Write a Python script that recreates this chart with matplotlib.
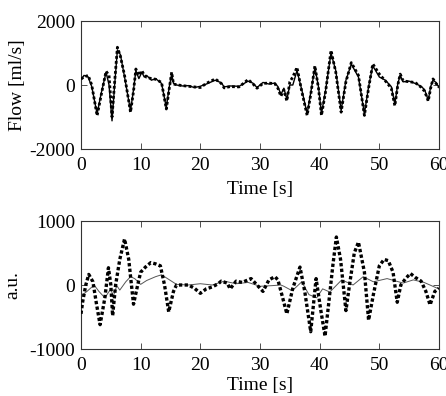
import matplotlib
matplotlib.use("Agg")
import matplotlib.pyplot as plt

plt.rcParams['font.family'] = ['Liberation Serif', 'DejaVu Serif']
plt.rcParams['axes.unicode_minus'] = False

# ---- top panel: flow ----
t_top = [0, 0.5, 1.2, 1.8, 2.7, 3.4, 4.2, 4.7, 5.2, 5.6, 6.1, 6.6, 7.3, 8.3, 8.8, 9.2, 9.7, 10.2,
         10.6, 11, 11.8, 12.5, 13.5, 14.3, 14.8, 15.2, 15.5, 16, 17, 18, 19, 20, 21, 22.5, 23.5,
         24, 25, 26.5, 28, 28.8, 29.5, 30.5, 31.5, 32.5, 33, 33.5, 34, 34.5, 35, 35.5, 36.2, 37,
         37.9, 38.5, 39.2, 39.8, 40.3, 41, 41.9, 42.7, 43.6, 44.4, 45.3, 46.5, 47.5, 48.2, 48.9,
         50, 51, 52, 52.6, 53.1, 53.5, 54, 55, 56, 57, 57.6, 58.2, 58.6, 59, 59.5, 60]
flow_ref = [190, 250, 300, 0, -960, -300, 430, 300, -1000, 0, 1180, 900, 300, -850, -200, 500, 300, 450,
            300, 240, 200, 180, 80, -750, -100, 400, 30, 10, -20, -40, -60, -80, 50, 190, 50,
            -90, -50, -60, 170, 40, -100, 50, 60, 40, -100, -350, -150, -500, 100, 250, 550, -200,
            -950, -300, 600, -100, -950, -200, 1080, 400, -850, 100, 700, 300, -950, -100, 660,
            340, 130, -100, -650, 0, 340, 130, 100, 80, -70, -200, -500, -100, 190, 50, -70]
flow_est = [150, 300, 250, -50, -900, -250, 400, 0, -1120, -100, 1100, 950, 250, -800, -150, 450, 200, 400,
            250, 300, 150, 200, 50, -700, -50, 350, 50, 0, -30, -20, -80, -40, 30, 150, 70,
            -60, -30, -40, 120, 60, -80, 80, 30, 60, -50, -300, -100, -450, 0, 0, 450, -150,
            -900, -250, 550, -50, -900, -150, 1000, 450, -800, 150, 650, 250, -900, -50, 600,
            250, 150, -50, -600, 50, 300, 100, 120, 50, -40, -150, -480, -50, 150, 80, -80]

# ---- bottom panel: a.u. ----
t_bot = [0, 0.3, 0.8, 1.3, 2, 2.6, 3.2, 4, 4.6, 5, 5.3, 5.8, 6.5, 7.3, 8, 8.8, 9.5, 10, 10.8, 11.7,
         12.5, 13.3, 14, 14.7, 15.5, 16, 17, 18, 19, 20, 21, 22, 23, 23.5, 24.5, 25, 26, 27, 28.5,
         29.5, 30.5, 31.5, 32.5, 33, 33.8, 34.5, 35.5, 36.7, 37.5, 38.5, 39.4, 40.2, 40.9, 41.5,
         42.2, 42.8, 43.5, 44.4, 45, 45.8, 46.5, 47.5, 48.2, 49, 50, 50.8, 51.5, 52.3, 53, 53.6,
         54.4, 55.2, 56, 57, 57.8, 58.5, 59.3, 60]
au_dotted = [-450, -250, 0, 165, 50, -300, -620, -200, 270, 0, -480, 0, 400, 720, 400, -300, 0, 200, 280, 350,
             330, 300, 0, -420, -100, 0, 0, 0, -50, -130, -60, -30, 20, 60, 30, -60, 60, 40, 100,
             0, -100, 80, 130, 80, -200, -450, -50, 280, -100, -730, 100, -400, -800, -300,
             300, 750, 400, -400, 0, 500, 670, 200, -550, -150, 300, 400, 380, 200, -270, 0,
             100, 180, 120, 60, -100, -310, -100, -50]

t_bot2 = [0, 1, 2.2, 3, 4, 5, 5.4, 6, 6.5, 7.5, 8.3, 9, 10, 11, 12.5, 13.5, 14.5, 16, 18, 20, 22,
          24, 26, 28, 30, 32, 33.5, 34, 35.4, 37, 38.2, 39.5, 40.5, 41.7, 43.7, 45.6, 47.3, 49,
          51.3, 54, 55.7, 57.5, 59.7, 60]
au_solid = [-170, -100, 0, -100, -200, -60, -180, -10, -80, 50, 130, 100, 10, 70, 130, 160, 100, 10, 0, 20, 0,
            60, 20, 40, -20, -10, 0, -20, -90, 50, -150, -200, -60, -110, 80, 0, 130, 50,
            100, 30, 80, 40, -50, -60]

fig = plt.figure(figsize=(4.46, 3.96), dpi=100)
ax1 = fig.add_axes([81/446, 1 - 149/396, 358/446, 128/396])
ax2 = fig.add_axes([81/446, 1 - 349/396, 358/446, 128/396])

ax1.plot(t_top, flow_est, color='black', lw=1.0, zorder=2)
ax1.plot(t_top, flow_ref, color='black', lw=2.0, linestyle=(0, (1, 0.8)), zorder=3)
ax1.set_ylim(-2000, 2000)
ax1.set_yticks([-2000, 0, 2000])
ax1.set_ylabel('Flow [ml/s]', labelpad=3)

ax2.plot(t_bot2, au_solid, color='#555555', lw=0.7, zorder=2)
ax2.plot(t_bot, au_dotted, color='black', lw=2.4, linestyle=(0, (1, 0.7)), zorder=3)
ax2.set_ylim(-1000, 1000)
ax2.set_yticks([-1000, 0, 1000])
ax2.set_ylabel('a.u.', labelpad=6)

for ax, lp in ((ax1, 5), (ax2, 2)):
    ax.set_xlim(0, 60)
    ax.set_xticks([0, 10, 20, 30, 40, 50, 60])
    ax.set_xlabel('Time [s]', fontsize=14, labelpad=lp)
    ax.tick_params(direction='in', top=True, right=True, length=4, width=0.6,
                   labelsize=14, pad=6, color='#333333')
    ax.tick_params(axis='y', pad=4)
    for s in ax.spines.values():
        s.set_linewidth(0.8)
        s.set_color('#333333')
    ax.yaxis.label.set_size(14)

fig.savefig('out.png', dpi=100)
